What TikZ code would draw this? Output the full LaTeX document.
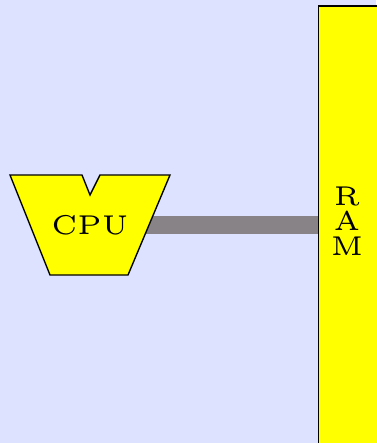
\documentclass[tikz,border=0pt]{standalone}
\usepackage{xcolor}
\usepackage{tikz}
\definecolor{bgc}{RGB}{220,226,255}
\definecolor{busc}{RGB}{135,131,135}
\definecolor{chipc}{RGB}{255,255,0}
\def\pxu{0.184pt}

\begin{document}
\begin{tikzpicture}[
  x=\pxu, y=-\pxu,
  chip/.style={draw=black, fill=chipc, line width=0.25pt},
  lbl/.style={font=\fontsize{5}{4.6}\selectfont, align=center, inner sep=0pt},
  bus/.style={line width={18*\pxu}, color=busc}
]
  \fill[bgc] (0,0) rectangle (376,443);
  \useasboundingbox (0,0) rectangle (376,443);
  \node[chip, minimum width={59*\pxu}, minimum height={438*\pxu}, inner sep=0pt] (ram) at (348,225) {};
  \node[lbl] (ramtxt) at (347,221) {R\\A\\M};
  \coordinate (cpuc) at (90,225);
  \draw[bus] (cpuc) -- (ram.west);
  \draw[chip] (10,175) -- (82,175) -- (90,195) -- (100,175) -- (170,175)
              -- (128,275) -- (50,275) -- cycle;
  \node[lbl] (cpu) at (cpuc) {CPU};
\end{tikzpicture}
\end{document}
